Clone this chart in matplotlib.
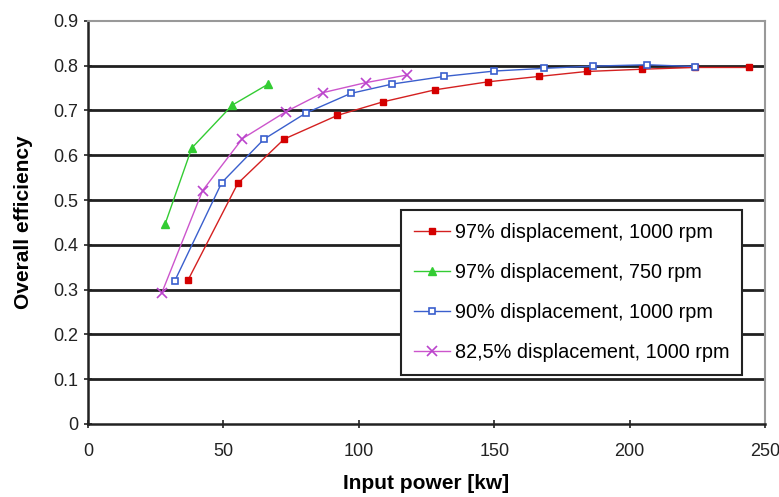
import matplotlib
matplotlib.use("Agg")
import matplotlib.pyplot as plt

plt.rcParams['font.family'] = ['Liberation Sans', 'DejaVu Sans']

# Data
red_x = [37.0, 55.3, 72.4, 92.1, 108.8, 128.1, 147.8, 166.7, 184.1, 204.5, 224.1, 244.2]
red_y = [0.322, 0.537, 0.636, 0.689, 0.719, 0.746, 0.764, 0.776, 0.787, 0.792, 0.796, 0.796]

green_x = [28.5, 38.3, 53.3, 66.6]
green_y = [0.447, 0.616, 0.712, 0.759]

blue_x = [32.0, 49.4, 65.0, 80.4, 97.0, 112.4, 131.5, 150.1, 168.4, 186.6, 206.5, 224.1]
blue_y = [0.319, 0.539, 0.636, 0.694, 0.738, 0.759, 0.776, 0.788, 0.794, 0.799, 0.802, 0.798]

mag_x = [27.2, 42.3, 57.0, 73.0, 86.9, 102.5, 117.7]
mag_y = [0.292, 0.521, 0.637, 0.697, 0.740, 0.762, 0.779]

labels = ["97% displacement, 1000 rpm", "97% displacement, 750 rpm",
          "90% displacement, 1000 rpm", "82,5% displacement, 1000 rpm"]

x_ticks = [0, 50, 100, 150, 200, 250]
y_ticks = [0, 0.1, 0.2, 0.3, 0.4, 0.5, 0.6, 0.7, 0.8, 0.9]

fig = plt.figure(figsize=(7.79, 4.97), dpi=100)
ax = fig.add_axes([0.113, 0.147, 0.869, 0.811])

for yv in y_ticks[1:-1]:
    ax.axhline(yv, color='#202020', lw=2.0, zorder=1)

ax.plot(red_x, red_y, color='#d42020', lw=1.0, marker='s', ms=4.2,
        mfc='#d40000', mec='#d40000', label=labels[0], zorder=3)
ax.plot(green_x, green_y, color='#33cc33', lw=1.0, marker='^', ms=6,
        mfc='#33cc33', mec='#33cc33', label=labels[1], zorder=3)
ax.plot(blue_x, blue_y, color='#3a5fcd', lw=1.0, marker='s', ms=5,
        mfc='white', mec='#3a5fcd', mew=1.2, label=labels[2], zorder=3)
ax.plot(mag_x, mag_y, color='#cc55cc', lw=1.0, marker='x', ms=7,
        mec='#bb44cc', mew=1.2, label=labels[3], zorder=3)

ax.set_xlim(0, 250)
ax.set_ylim(0, 0.9)
ax.set_xticks(x_ticks)
ax.set_yticks(y_ticks)
ax.set_xticklabels([str(v) for v in x_ticks])
ax.set_yticklabels(['0'] + [f'{v:.1f}' for v in y_ticks[1:]])
ax.tick_params(axis='both', labelsize=13, colors='#222222', direction='inout', length=6, width=1.2)
ax.tick_params(axis='x', pad=11)
ax.tick_params(axis='y', pad=4)

for s in ['top', 'right']:
    ax.spines[s].set_color('#999999')
    ax.spines[s].set_linewidth(1.5)
for s in ['left', 'bottom']:
    ax.spines[s].set_color('#222222')
    ax.spines[s].set_linewidth(1.8)

ax.set_xlabel('Input power [kw]', fontsize=15, fontweight='bold')
ax.set_ylabel('Overall efficiency', fontsize=15, fontweight='bold')
ax.xaxis.set_label_coords(0.5, -0.124)
ax.yaxis.set_label_coords(-0.081, 0.5)

leg = ax.legend(loc='lower right', bbox_to_anchor=(0.966, 0.1216), fontsize=14.3,
                frameon=True, fancybox=False, edgecolor='#222222', framealpha=1,
                handlelength=1.8, handletextpad=0.25, labelspacing=1.06, borderpad=0.65,
                borderaxespad=0)
leg.get_frame().set_linewidth(1.5)
leg.set_zorder(5)

fig.savefig('out.png', dpi=100)
